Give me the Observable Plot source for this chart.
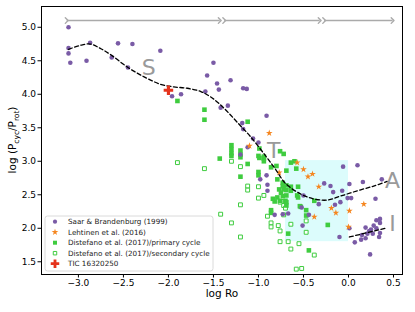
<!DOCTYPE html>
<html><head><meta charset="utf-8">
<script src="https://cdn.jsdelivr.net/npm/d3@7"></script>
<script src="https://cdn.jsdelivr.net/npm/@observablehq/plot@0.6"></script>
<style>body{margin:0;background:#fff;} svg{display:block;}</style>
</head><body><div id="chart"></div>
<script>
const xTicks = [-3.0, -2.5, -2.0, -1.5, -1.0, -0.5, 0.0, 0.5];
const yTicks = [1.5, 2.0, 2.5, 3.0, 3.5, 4.0, 4.5, 5.0];

const saarX = [-3.11,-3.11,-3.11,-3.09,-2.91,-2.87,-2.63,-2.56,-2.45,-2.40,-2.09,-1.96,-1.86,-1.59,-1.57,-1.50,-1.46,-1.44,-1.31,-1.17,-1.13,-1.42,-1.34,-0.91,-1.18,-1.17,-1.06,-1.00,-1.12,-1.20,-0.91,-0.98,-0.90,-0.90,-0.82,-0.73,-0.67,-0.52,-0.51,-0.27,-0.20,-0.17,-0.15,-0.07,-0.06,0.01,-0.01,0.03,0.10,0.16,0.30,0.37,-0.50,-0.09,-0.33,-0.44,-0.10,0.01,0.19,0.25,0.31,0.31,0.35,0.35,0.21,0.27,0.15,0.19,0.14,0.35,0.34,0.07,0.24,0.23,0.28];
const saarY = [5.00,4.69,4.61,4.47,4.50,4.77,4.55,4.76,4.40,4.75,4.65,3.97,4.00,4.04,4.28,4.47,4.16,4.07,4.21,4.09,4.08,3.80,3.83,3.68,3.57,3.48,3.34,3.28,3.21,3.10,2.79,2.73,2.65,2.56,2.20,2.21,2.22,2.31,2.04,2.67,2.63,2.54,2.35,2.56,2.92,2.66,2.45,2.45,2.94,2.69,2.44,2.73,2.49,2.39,2.36,2.20,1.87,2.00,2.01,1.98,2.00,2.12,2.14,2.08,1.92,1.92,1.90,1.85,1.83,1.93,1.87,1.79,1.61,1.96,2.04];

const lehtX = [-0.88,-1.10,-0.77,-0.57,-0.50,-0.45,-0.40,-0.33,-0.19,-0.14,-0.38,0.01,0.17,0.00];
const lehtY = [3.42,3.23,2.83,2.98,2.88,2.77,2.81,2.62,2.30,2.23,2.17,2.26,2.36,2.02];

const primX = [-1.90,-1.60,-1.60,-1.12,-1.30,-1.30,-1.30,-1.30,-1.20,-1.20,-1.20,-1.43,-1.20,-1.12,-0.99,-1.00,-0.99,-0.94,-0.94,-0.76,-0.72,-0.86,-0.80,-1.00,-1.00,-0.69,-0.64,-0.60,-0.58,-0.79,-0.73,-0.69,-0.73,-0.64,-0.77,-0.72,-0.69,-0.75,-0.79,-0.73,-0.69,-0.84,-0.76,-0.70,-0.56,-0.57,-0.67,-0.44,-0.23,-0.38,-0.47,-0.86,-0.86,-0.69,-0.69,-0.82,-0.53,-0.56,-0.64,-0.54,-0.47,-0.94];
const primY = [3.90,3.77,3.62,3.59,3.24,3.18,3.12,3.08,3.16,3.10,3.06,3.04,2.77,2.96,3.19,3.08,3.05,3.04,3.00,3.15,3.11,2.91,2.93,2.84,2.79,2.86,2.98,3.00,2.89,2.73,2.68,2.64,2.63,2.62,2.58,2.58,2.57,2.53,2.46,2.48,2.49,2.44,2.41,2.41,2.62,2.49,1.92,1.67,2.05,2.41,2.27,2.27,2.23,2.39,2.34,2.40,2.32,2.46,2.56,2.33,2.19,3.07];

const secX = [-1.90,-1.60,-1.30,-1.20,-1.12,-1.12,-1.00,-1.00,-0.94,-1.20,-1.42,-1.30,-1.20,-0.86,-0.86,-0.78,-0.76,-0.76,-0.67,-0.64,-0.64,-0.55,-0.47,-0.47,-0.38,-0.58,-0.52,-0.74,-0.72,-0.90,-0.76,-0.70,-0.72];
const secY = [2.98,2.89,3.00,2.92,2.63,2.57,2.62,2.45,2.49,2.35,2.21,2.08,1.87,2.08,2.02,2.04,1.96,1.80,1.80,1.69,2.06,1.77,1.94,2.11,1.60,1.39,1.40,2.40,2.34,2.18,2.39,2.30,2.20];

const ticX = [-2.00];
const ticY = [4.06];

const curveX = [-3.11,-2.98,-2.87,-2.75,-2.63,-2.45,-2.27,-2.09,-1.94,-1.79,-1.64,-1.53,-1.42,-1.31,-1.20,-1.09,-0.92,-0.81,-0.70,-0.53,-0.39,-0.24,-0.09,0.10,0.28,0.43];
const curveY = [4.67,4.73,4.75,4.68,4.58,4.40,4.26,4.15,4.11,4.09,4.04,3.96,3.84,3.69,3.53,3.37,3.08,2.88,2.67,2.51,2.44,2.42,2.48,2.56,2.63,2.70];
const curve2X = [0.01, 0.41];
const curve2Y = [1.87, 2.00];

const arrowX1 = [-3.13, -1.38, -0.27];
const arrowX2 = [-1.43, -0.32, 0.49];
const arrowY = [5.10, 5.10, 5.10];

const regionX = [-0.70, 0.00];
const regionY = [1.80, 3.01];

const labelText = ["S", "T", "A", "I"];
const labelX = [-2.22, -0.83, 0.49, 0.49];
const labelY = [4.40, 3.15, 2.70, 2.07];

const legendLabels = ["Saar & Brandenburg (1999)", "Lehtinen et al. (2016)", "Distefano et al. (2017)/primary cycle", "Distefano et al. (2017)/secondary cycle", "TIC 16320250"];

const PURPLE = "#7a5ba6", ORANGE = "#f5861f", GREEN = "#3fcc3f", RED = "#e5331c";

const idx = a => a.map((_, i) => i);

const plot = Plot.plot({
  width: 415, height: 312,
  marginLeft: 41, marginRight: 13, marginTop: 6, marginBottom: 38,
  style: {fontFamily: "DejaVu Sans", fontSize: "9px", background: "white", color: "black"},
  x: {domain: [-3.41, 0.6], ticks: xTicks, tickSize: 3.5, tickPadding: 2, tickFormat: d3.format(".1f"), label: null},
  y: {domain: [1.31, 5.31], ticks: yTicks, tickSize: 3.5, tickPadding: 2, tickFormat: d3.format(".1f"), label: null},
  marks: [
    Plot.rect([0], {x1: () => regionX[0], x2: () => regionX[1], y1: () => regionY[0], y2: () => regionY[1], fill: "#dcfcfc"}),
    Plot.link(idx(arrowX1), {x1: i => arrowX1[i], x2: i => arrowX2[i], y1: i => arrowY[i], y2: i => arrowY[i], stroke: "#aaaaaa", strokeWidth: 1.4, markerStart: "arrow", markerEnd: "arrow"}),
    Plot.dot(idx(secX), {x: i => secX[i], y: i => secY[i], symbol: "square", r: 2.2, fill: "white", stroke: GREEN, strokeWidth: 1}),
    Plot.dot(idx(primX), {x: i => primX[i], y: i => primY[i], symbol: "square", r: 2.6, fill: GREEN, stroke: "none"}),
    Plot.dot(idx(saarX), {x: i => saarX[i], y: i => saarY[i], symbol: "circle", r: 2.3, fill: PURPLE, stroke: "none"}),
    Plot.dot(idx(lehtX), {x: i => lehtX[i], y: i => lehtY[i], symbol: "star", r: 2.1, fill: ORANGE, stroke: "none"}),
    Plot.line(idx(curveX), {x: i => curveX[i], y: i => curveY[i], curve: "catmull-rom", stroke: "black", strokeWidth: 1.3, strokeDasharray: "4,2.5"}),
    Plot.line(idx(curve2X), {x: i => curve2X[i], y: i => curve2Y[i], stroke: "black", strokeWidth: 1.3, strokeDasharray: "4,2.5"}),
    Plot.dot(idx(ticX), {x: i => ticX[i], y: i => ticY[i], symbol: "cross", r: 4.0, fill: RED, stroke: "none"}),
    Plot.text(idx(labelText), {x: i => labelX[i], y: i => labelY[i], text: i => labelText[i], fontSize: 22, fill: "#9a9a9a", fontFamily: "DejaVu Sans"}),
    Plot.frame({stroke: "black", strokeWidth: 1})
  ]
});
document.getElementById("chart").appendChild(plot);

const svg = d3.select(plot);
// Axis labels
svg.append("text").attr("x", 222).attr("y", 297).attr("text-anchor", "middle")
  .attr("font-family", "DejaVu Sans").attr("font-size", "10.5px").attr("fill", "black").text("log Ro");
const yl = svg.append("text").attr("transform", "translate(16,140) rotate(-90)").attr("text-anchor", "middle")
  .attr("font-family", "DejaVu Sans").attr("font-size", "10.5px").attr("fill", "black");
yl.append("tspan").text("log (P");
yl.append("tspan").attr("font-size", "7.5px").attr("dy", "2.5").text("cyc");
yl.append("tspan").attr("dy", "-2.5").text("/P");
yl.append("tspan").attr("font-size", "7.5px").attr("dy", "2.5").text("rot");
yl.append("tspan").attr("dy", "-2.5").text(")");

// Legend
const lg = svg.append("g");
lg.append("rect").attr("x", 45).attr("y", 216).attr("width", 168).attr("height", 55).attr("rx", 2.5)
  .attr("fill", "white").attr("fill-opacity", 0.8).attr("stroke", "#d0d0d0").attr("stroke-width", 0.8);
const legSyms = [
  {sym: d3.symbolCircle, size: 14, fill: PURPLE, stroke: "none"},
  {sym: d3.symbolStar, size: 14, fill: ORANGE, stroke: "none"},
  {sym: d3.symbolSquare, size: 16, fill: GREEN, stroke: "none"},
  {sym: d3.symbolSquare, size: 12, fill: "white", stroke: GREEN},
  {sym: d3.symbolCross, size: 40, fill: RED, stroke: "none"}
];
legendLabels.forEach((t, i) => {
  const yy = 221.7 + i * 10.5;
  const s = legSyms[i];
  lg.append("path").attr("d", d3.symbol(s.sym, s.size)()).attr("transform", `translate(55,${yy})`)
    .attr("fill", s.fill).attr("stroke", s.stroke).attr("stroke-width", 1);
  lg.append("text").attr("x", 68).attr("y", yy).attr("dy", "0.35em").attr("text-anchor", "start")
    .attr("font-family", "DejaVu Sans").attr("font-size", "7.2px").attr("fill", "#222").text(t);
});
</script></body></html>
